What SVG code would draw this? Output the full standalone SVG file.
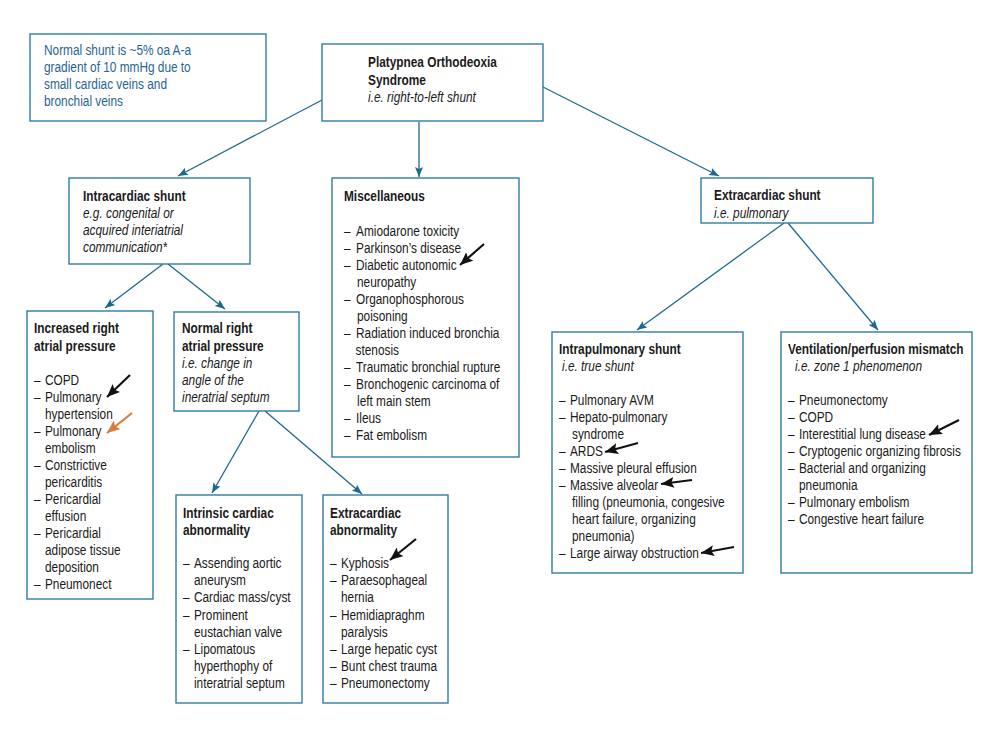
<svg xmlns="http://www.w3.org/2000/svg" width="1000" height="738" viewBox="0 0 1000 738">
<style>
.box{fill:#fff;stroke:#2f7ca3;stroke-width:1.4}
text{font-family:"Liberation Sans",Arial,sans-serif;font-size:15px;fill:#1a1a1a}
.b{font-weight:bold}
.i{font-style:italic}
.note text{fill:#1f6592}
.con{stroke:#1d6890;stroke-width:1.3;fill:none;marker-end:url(#ah)}
.ann{stroke:#111;stroke-width:2.2;fill:none;marker-end:url(#bh)}
.ann.o{stroke:#d97b3f;marker-end:url(#oh)}
</style>
<defs>
<marker id="ah" markerUnits="userSpaceOnUse" markerWidth="12" markerHeight="10" refX="10" refY="4" orient="auto"><path d="M0,0 L10,4 L0,8 L2,4 z" fill="#1d6890"/></marker>
<marker id="bh" markerUnits="userSpaceOnUse" markerWidth="15" markerHeight="13" refX="13" refY="5.5" orient="auto"><path d="M0,0 L13,5.5 L0,11 L2.5,5.5 z" fill="#111"/></marker>
<marker id="oh" markerUnits="userSpaceOnUse" markerWidth="15" markerHeight="13" refX="13" refY="5.5" orient="auto"><path d="M0,0 L13,5.5 L0,11 L2.5,5.5 z" fill="#d97b3f"/></marker>
</defs>
<rect width="1000" height="738" fill="#fff"/>

<g id="connectors">
<line class="con" x1="322" y1="100" x2="178" y2="176"/>
<line class="con" x1="419" y1="122" x2="419" y2="177"/>
<line class="con" x1="543" y1="87" x2="719" y2="176"/>
<line class="con" x1="163" y1="264" x2="105" y2="308"/>
<line class="con" x1="168" y1="264" x2="225" y2="309"/>
<line class="con" x1="259" y1="411" x2="212" y2="493"/>
<line class="con" x1="265" y1="411" x2="362" y2="494"/>
<line class="con" x1="784" y1="223" x2="637" y2="330"/>
<line class="con" x1="788" y1="223" x2="878" y2="330"/>
</g>

<g id="note" class="note">
<rect class="box" x="30" y="34" width="236" height="87"/>
<g transform="translate(44 0) scale(0.79 1)">
<text x="0" y="55">Normal shunt is ~5% oa A-a</text>
<text x="0" y="72">gradient of 10 mmHg due to</text>
<text x="0" y="89">small cardiac veins and</text>
<text x="0" y="106">bronchial veins</text>
</g>
</g>

<g id="pos">
<rect class="box" x="322" y="44" width="221" height="77"/>
<g transform="translate(368 0) scale(0.79 1)">
<text class="b" x="0" y="67">Platypnea Orthodeoxia</text>
<text class="b" x="0" y="85">Syndrome</text>
<text class="i" x="0" y="102">i.e. right-to-left shunt</text>
</g>
</g>

<g id="intracardiac">
<rect class="box" x="69" y="178" width="181" height="86"/>
<g transform="translate(83 0) scale(0.79 1)">
<text class="b" x="0" y="201">Intracardiac shunt</text>
<text class="i" x="0" y="218">e.g. congenital or</text>
<text class="i" x="0" y="235">acquired interiatrial</text>
<text class="i" x="0" y="252">communication*</text>
</g>
</g>

<g id="misc">
<rect class="box" x="332" y="178" width="187" height="279"/>
<g transform="translate(344 0) scale(0.79 1)">
<text class="b" x="0" y="201">Miscellaneous</text>
<text x="0" y="236">–</text><text x="15.2" y="236">Amiodarone toxicity</text>
<text x="0" y="253">–</text><text x="15.2" y="253">Parkinson’s disease</text>
<text x="0" y="270">–</text><text x="15.2" y="270">Diabetic autonomic</text>
<text x="16.5" y="287">neuropathy</text>
<text x="0" y="304">–</text><text x="15.2" y="304">Organophosphorous</text>
<text x="16.5" y="321">poisoning</text>
<text x="0" y="338">–</text><text x="15.2" y="338">Radiation induced bronchia</text>
<text x="14.6" y="355">stenosis</text>
<text x="0" y="372">–</text><text x="15.2" y="372">Traumatic bronchial rupture</text>
<text x="0" y="389">–</text><text x="15.2" y="389">Bronchogenic carcinoma of</text>
<text x="16.5" y="406">left main stem</text>
<text x="0" y="423">–</text><text x="15.2" y="423">Ileus</text>
<text x="0" y="440">–</text><text x="15.2" y="440">Fat embolism</text>
</g>
</g>

<g id="extracardiac">
<rect class="box" x="701" y="178" width="172" height="45"/>
<g transform="translate(714 0) scale(0.79 1)">
<text class="b" x="0" y="200">Extracardiac shunt</text>
<text class="i" x="0" y="218">i.e. pulmonary</text>
</g>
</g>

<g id="increased-rap">
<rect class="box" x="27" y="311" width="126" height="288"/>
<g transform="translate(34 0) scale(0.79 1)">
<text class="b" x="0" y="333">Increased right</text>
<text class="b" x="0" y="351">atrial pressure</text>
<text x="0" y="385">–</text><text x="13.9" y="385">COPD</text>
<text x="0" y="402">–</text><text x="13.9" y="402">Pulmonary</text>
<text x="13.9" y="419">hypertension</text>
<text x="0" y="436">–</text><text x="13.9" y="436">Pulmonary</text>
<text x="13.9" y="453">embolism</text>
<text x="0" y="470">–</text><text x="13.9" y="470">Constrictive</text>
<text x="13.9" y="487">pericarditis</text>
<text x="0" y="504">–</text><text x="13.9" y="504">Pericardial</text>
<text x="13.9" y="521">effusion</text>
<text x="0" y="538">–</text><text x="13.9" y="538">Pericardial</text>
<text x="13.9" y="555">adipose tissue</text>
<text x="13.9" y="572">deposition</text>
<text x="0" y="589">–</text><text x="13.9" y="589">Pneumonect</text>
</g>
</g>

<g id="normal-rap">
<rect class="box" x="174" y="312" width="125" height="99"/>
<g transform="translate(182 0) scale(0.79 1)">
<text class="b" x="0" y="333">Normal right</text>
<text class="b" x="0" y="351">atrial pressure</text>
<text class="i" x="0" y="368">i.e. change in</text>
<text class="i" x="0" y="385">angle of the</text>
<text class="i" x="0" y="402">ineratrial septum</text>
</g>
</g>

<g id="intrinsic">
<rect class="box" x="176" y="495" width="126" height="208"/>
<g transform="translate(183 0) scale(0.79 1)">
<text class="b" x="0" y="518">Intrinsic cardiac</text>
<text class="b" x="0" y="535">abnormality</text>
<text x="0" y="568">–</text><text x="13.9" y="568">Assending aortic</text>
<text x="13.9" y="585">aneurysm</text>
<text x="0" y="602">–</text><text x="13.9" y="602">Cardiac mass/cyst</text>
<text x="0" y="620">–</text><text x="13.9" y="620">Prominent</text>
<text x="13.9" y="637">eustachian valve</text>
<text x="0" y="654">–</text><text x="13.9" y="654">Lipomatous</text>
<text x="13.9" y="671">hyperthophy of</text>
<text x="13.9" y="688">interatrial septum</text>
</g>
</g>

<g id="extracardiac-abn">
<rect class="box" x="323" y="495" width="125" height="208"/>
<g transform="translate(330 0) scale(0.79 1)">
<text class="b" x="0" y="518">Extracardiac</text>
<text class="b" x="0" y="535">abnormality</text>
<text x="0" y="568">–</text><text x="13.9" y="568">Kyphosis</text>
<text x="0" y="585">–</text><text x="13.9" y="585">Paraesophageal</text>
<text x="13.9" y="602">hernia</text>
<text x="0" y="620">–</text><text x="13.9" y="620">Hemidiapraghm</text>
<text x="13.9" y="637">paralysis</text>
<text x="0" y="654">–</text><text x="13.9" y="654">Large hepatic cyst</text>
<text x="0" y="671">–</text><text x="13.9" y="671">Bunt chest trauma</text>
<text x="0" y="688">–</text><text x="13.9" y="688">Pneumonectomy</text>
</g>
</g>

<g id="intrapulmonary">
<rect class="box" x="552" y="332" width="191" height="241"/>
<g transform="translate(559 0) scale(0.79 1)">
<text class="b" x="0" y="354">Intrapulmonary shunt</text>
<text class="i" x="3.8" y="371">i.e. true shunt</text>
<text x="0" y="405">–</text><text x="13.9" y="405">Pulmonary AVM</text>
<text x="0" y="422">–</text><text x="13.9" y="422">Hepato-pulmonary</text>
<text x="16.5" y="439">syndrome</text>
<text x="0" y="456">–</text><text x="13.9" y="456">ARDS</text>
<text x="0" y="473">–</text><text x="13.9" y="473">Massive pleural effusion</text>
<text x="0" y="490">–</text><text x="13.9" y="490">Massive alveolar</text>
<text x="16.5" y="507">filling (pneumonia, congesive</text>
<text x="16.5" y="524">heart failure, organizing</text>
<text x="16.5" y="541">pneumonia)</text>
<text x="0" y="558">–</text><text x="13.9" y="558">Large airway obstruction</text>
</g>
</g>

<g id="vq-mismatch">
<rect class="box" x="781" y="332" width="191" height="241"/>
<g transform="translate(788 0) scale(0.79 1)">
<text class="b" x="0" y="354">Ventilation/perfusion mismatch</text>
<text class="i" x="8.9" y="371">i.e. zone 1 phenomenon</text>
<text x="0" y="405">–</text><text x="13.9" y="405">Pneumonectomy</text>
<text x="0" y="422">–</text><text x="13.9" y="422">COPD</text>
<text x="0" y="439">–</text><text x="13.9" y="439">Interestitial lung disease</text>
<text x="0" y="456">–</text><text x="13.9" y="456">Cryptogenic organizing fibrosis</text>
<text x="0" y="473">–</text><text x="13.9" y="473">Bacterial and organizing</text>
<text x="13.9" y="490">pneumonia</text>
<text x="0" y="507">–</text><text x="13.9" y="507">Pulmonary embolism</text>
<text x="0" y="524">–</text><text x="13.9" y="524">Congestive heart failure</text>
</g>
</g>

<g id="annotations">
<line class="ann" x1="130" y1="375" x2="107" y2="397"/>
<line class="ann o" x1="132" y1="413" x2="107" y2="433"/>
<line class="ann" x1="484" y1="244" x2="460" y2="265"/>
<line class="ann" x1="416" y1="539" x2="390" y2="560"/>
<line class="ann" x1="638" y1="443" x2="605" y2="452"/>
<line class="ann" x1="692" y1="480" x2="661" y2="484"/>
<line class="ann" x1="734" y1="547" x2="701" y2="553"/>
<line class="ann" x1="959" y1="420" x2="929" y2="435"/>
</g>
</svg>
